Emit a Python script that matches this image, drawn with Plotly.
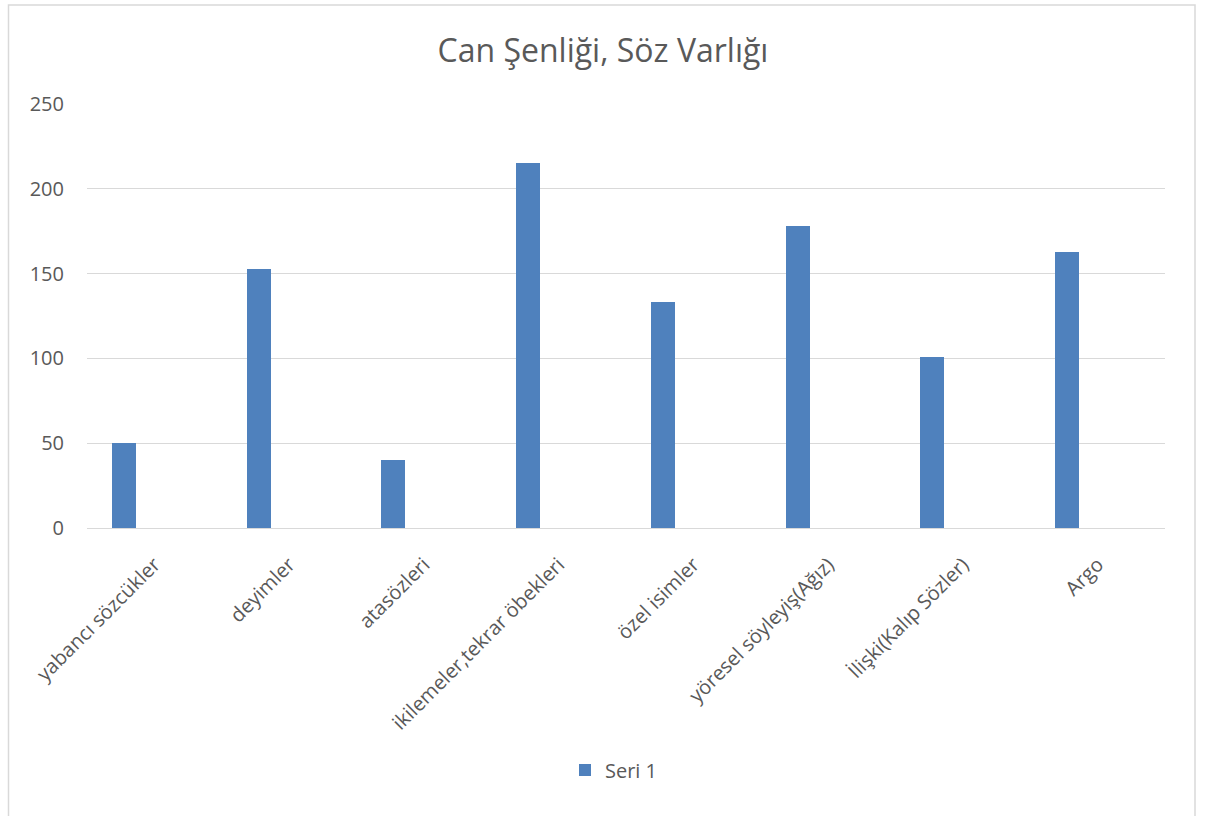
import plotly.graph_objects as go

categories = ["yabancı sözcükler", "deyimler", "atasözleri", "ikilemeler,tekrar öbekleri",
              "özel isimler", "yöresel söyleyiş(Ağız)", "İlişki(Kalıp Sözler)", "Argo"]
values = [50, 153, 40, 215, 133, 178, 101, 163]
series_name = "Seri 1"
y_ticks = [0, 50, 100, 150, 200, 250]

W, H = 1206, 816
L, R, T, B = 87, 41, 104, 288
FONT = "Open Sans, Lato, sans-serif"
GREY = "#595959"

fig = go.Figure()
fig.add_trace(go.Bar(
    x=categories, y=values, name=series_name,
    marker=dict(color="#4f81bd", line=dict(width=0)),
    width=0.178, offset=-0.315,
))

pw = W - L - R
ph = H - T - B
def px_x(px):
    return (px - L) / pw
def px_y(py):
    return (H - B - py) / ph

fig.update_layout(
    width=W, height=H,
    margin=dict(l=L, r=R, t=T, b=B),
    paper_bgcolor="white", plot_bgcolor="white",
    title=dict(text="Can Şenliği, Söz Varlığı", x=0.5, xanchor="center",
               y=1 - 51 / H, yanchor="middle",
               font=dict(family=FONT, size=32, color=GREY)),
    font=dict(family=FONT, color=GREY),
    showlegend=True,
    legend=dict(orientation="h", x=px_x(614), xanchor="center", y=px_y(770), yanchor="middle",
                font=dict(family=FONT, size=20, color=GREY)),
    xaxis=dict(range=[-0.5, len(categories) - 0.5], tickangle=-45,
               showgrid=False, showline=False, zeroline=False, ticks="",
               ticklabelstandoff=20,
               tickfont=dict(family=FONT, size=20, color=GREY)),
    yaxis=dict(range=[0, 250], tickvals=y_ticks, showgrid=True, gridcolor="#d9d9d9",
               gridwidth=1.3, zeroline=True, zerolinecolor="#d9d9d9", zerolinewidth=1.3,
               showline=False, ticks="", ticklabelstandoff=22,
               tickfont=dict(family=FONT, size=20, color=GREY)),
    bargap=0,
    shapes=[dict(type="rect", xref="paper", yref="paper",
                 x0=px_x(8.5), x1=px_x(1195), y0=px_y(830), y1=px_y(5),
                 line=dict(color="#d9d9d9", width=1.5), layer="below")],
)

fig.write_html("out.html")
